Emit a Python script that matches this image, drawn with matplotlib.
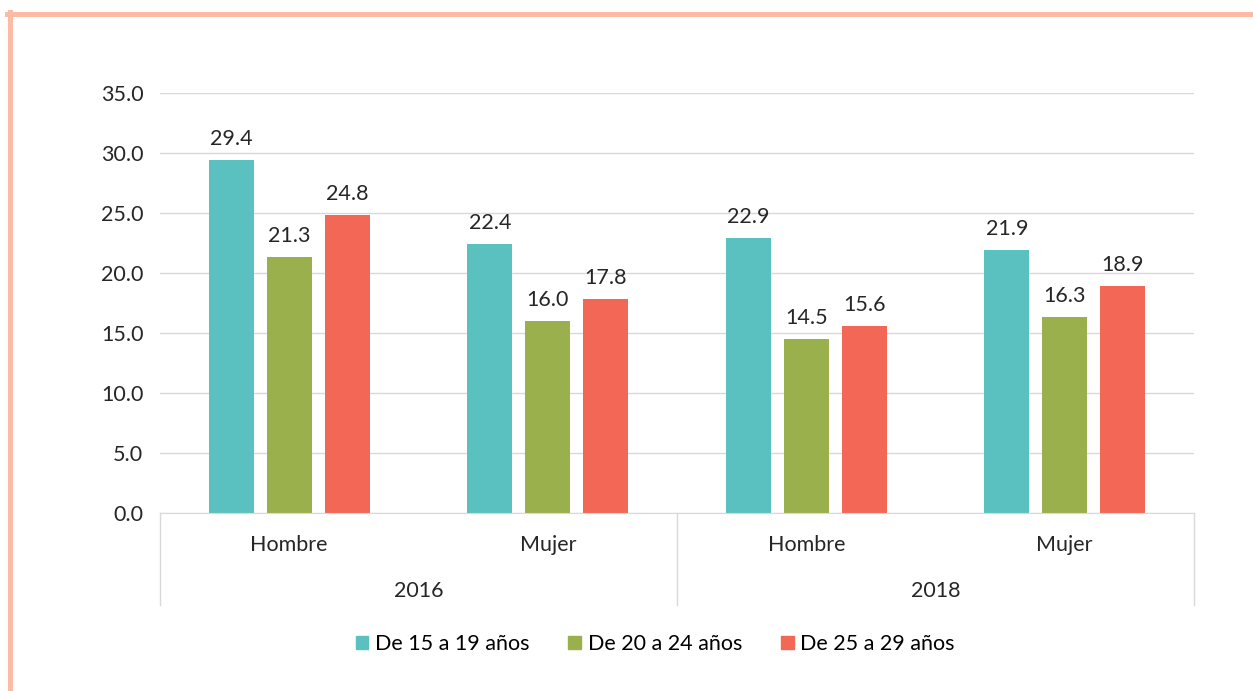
import numpy as np
import matplotlib.pyplot as plt
from matplotlib.lines import Line2D
from matplotlib.patches import Patch

plt.rcParams['font.family'] = ['Lato', 'DejaVu Sans']

# Data
years = ['2016', '2018']
sexes = ['Hombre', 'Mujer', 'Hombre', 'Mujer']
series = ['De 15 a 19 años', 'De 20 a 24 años', 'De 25 a 29 años']
v15_19 = [29.4, 22.4, 22.9, 21.9]
v20_24 = [21.3, 16.0, 14.5, 16.3]
v25_29 = [24.8, 17.8, 15.6, 18.9]
colors = ['#5BC0C0', '#9AB04C', '#F26755']

W, H = 1253, 691
FS = 15.5
TXT = '#262626'
fig = plt.figure(figsize=(W / 100, H / 100), dpi=100)
ax = fig.add_axes([160 / W, 1 - 513 / H, (1194 - 160) / W, (513 - 93) / H])

x = np.arange(len(sexes)) + 0.5
width = 0.174
pitch = 0.224
for i, (vals, col) in enumerate(zip([v15_19, v20_24, v25_29], colors)):
    pos = x + (i - 1) * pitch
    ax.bar(pos, vals, width=width, color=col, zorder=3)
    for p, v in zip(pos, vals):
        ax.annotate(f'{v:.1f}', (p, v), xytext=(0, 8), textcoords='offset points',
                    ha='center', va='bottom', fontsize=FS, color=TXT)

ax.set_xlim(0, 4)
ax.set_ylim(0, 35)
ax.set_yticks(np.arange(0, 35.1, 5))
ax.set_yticklabels([f'{t:.1f}' for t in np.arange(0, 35.1, 5)], fontsize=FS, color=TXT)
ax.tick_params(axis='y', length=0, pad=12)
ax.set_xticks([])
ax.grid(axis='y', color='#D9D9D9', linewidth=1, zorder=0)
for s in ['top', 'right', 'left']:
    ax.spines[s].set_visible(False)
ax.spines['bottom'].set_color('#D9D9D9')
ax.spines['bottom'].set_zorder(4)

# category labels
tr = ax.get_xaxis_transform()
for xi, s in zip(x, sexes):
    ax.text(xi, -0.076, s, transform=tr, ha='center', va='center', fontsize=FS, color=TXT)
for k, yr in enumerate(years):
    ax.text(1 + 2 * k, -0.186, yr, transform=tr, ha='center', va='center', fontsize=FS, color=TXT)
for xs in [0, 2, 4]:
    ax.add_line(Line2D([xs, xs], [0, -0.219], transform=tr, color='#D9D9D9', linewidth=1, clip_on=False))

handles = [Patch(color=c) for c in colors]
fig.legend(handles, series, loc='center', bbox_to_anchor=(655 / W, 1 - 644 / H), ncol=3,
           frameon=False, fontsize=FS, handlelength=0.6, handleheight=0.6, handletextpad=0.3,
           columnspacing=1.8)

# decorative border
fig.add_artist(Line2D([7 / W, 1], [1 - 14 / H, 1 - 14 / H], color='#FBBBA5', linewidth=3.6))
fig.add_artist(Line2D([9.5 / W, 9.5 / W], [0, 1 - 12 / H], color='#FBBBA5', linewidth=3.6))

fig.savefig('out.png', dpi=100)
